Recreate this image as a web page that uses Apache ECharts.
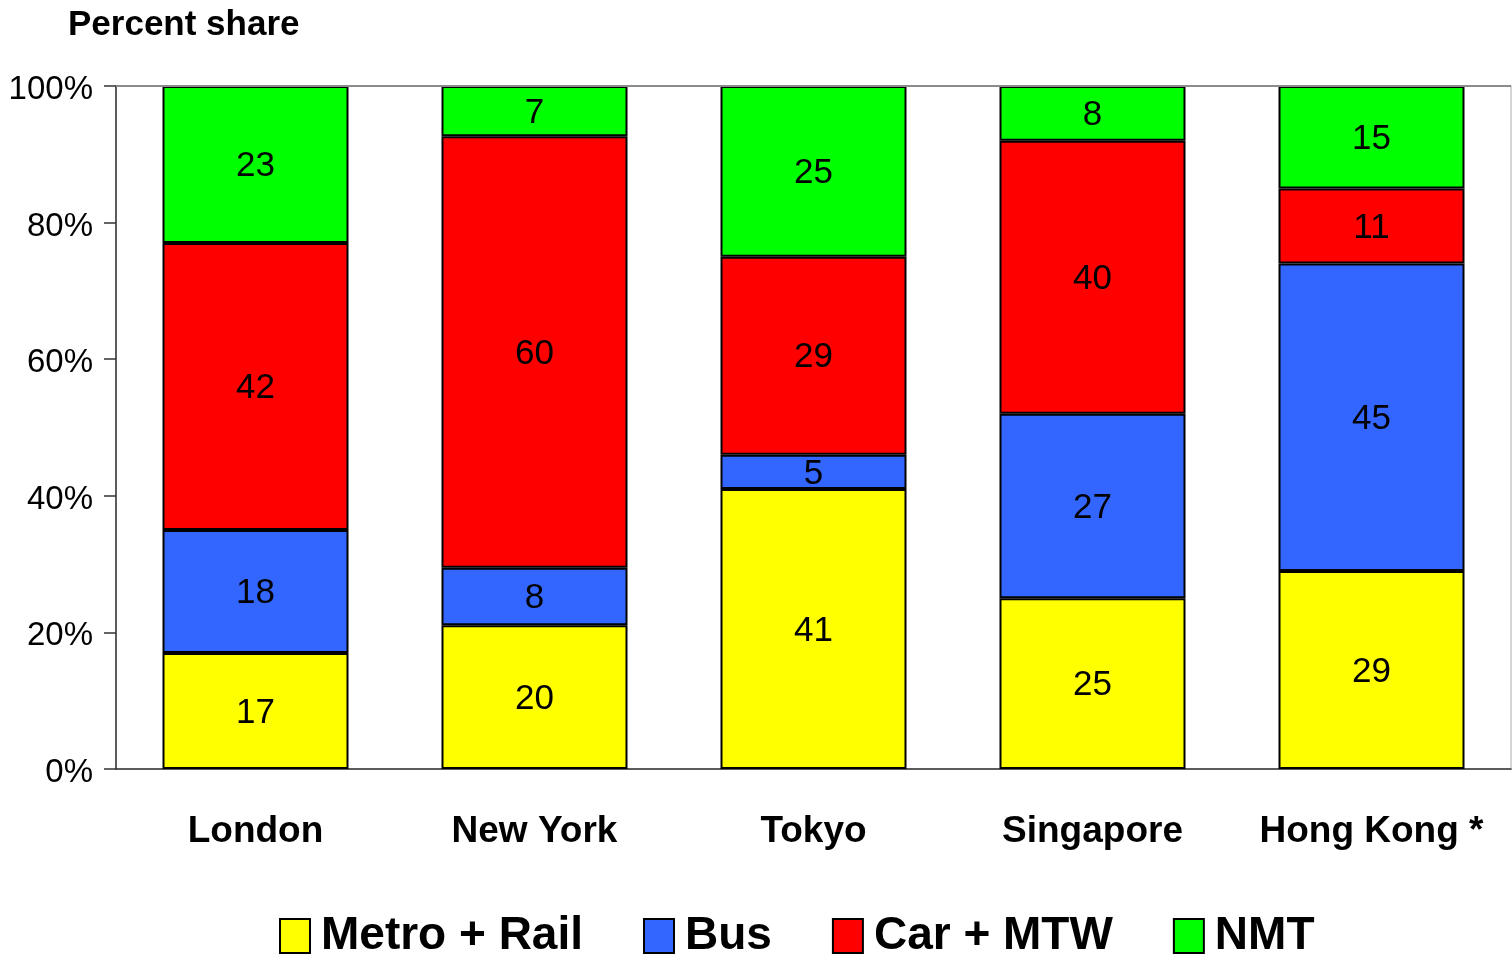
<!DOCTYPE html>
<html>
<head>
<meta charset="utf-8">
<title>Percent share</title>
<script src="https://cdn.jsdelivr.net/npm/echarts@6/dist/echarts.min.js"></script>
<style>
  html, body { margin: 0; padding: 0; background: #fff; }
  #chart { width: 1512px; height: 954px; }
</style>
</head>
<body>
<div id="chart"></div>
<script>
// Modal split of trips by city
const cities = ['London', 'New York', 'Tokyo', 'Singapore', 'Hong Kong *'];
const metroRail = [17, 20, 41, 25, 29];
const bus = [18, 8, 5, 27, 45];
const carMtw = [42, 60, 29, 40, 11];
const nmt = [23, 7, 25, 8, 15];
const yTicks = [0, 20, 40, 60, 80, 100];

const modes = [
  { name: 'Metro + Rail', values: metroRail, color: '#FFFF00' },
  { name: 'Bus', values: bus, color: '#3366FF' },
  { name: 'Car + MTW', values: carMtw, color: '#FF0000' },
  { name: 'NMT', values: nmt, color: '#00FF00' }
];

// Each bar is scaled to 100% of its city's total
const totals = cities.map((c, i) => modes.reduce((s, m) => s + m.values[i], 0));

const FONT = 'Liberation Sans, Arial, Helvetica, sans-serif';

const chart = echarts.init(document.getElementById('chart'), null, { renderer: 'canvas' });

chart.setOption({
  animation: false,
  backgroundColor: '#fff',
  textStyle: { fontFamily: FONT, color: '#000' },
  title: {
    text: 'Percent share',
    left: 63,
    top: 3,
    textStyle: { fontFamily: FONT, fontSize: 35, fontWeight: 'bold', color: '#000' }
  },
  legend: {
    left: 274,
    top: 908,
    itemWidth: 30,
    itemHeight: 34,
    itemGap: 60,
    icon: 'rect',
    selectedMode: false,
    textStyle: { fontFamily: FONT, fontSize: 46, fontWeight: 'bold', color: '#000', padding: [0, 0, 0, 6] },
    itemStyle: { borderColor: '#000', borderWidth: 2 },
    data: modes.map(m => m.name)
  },
  grid: {
    left: 116,
    right: 1,
    top: 86,
    bottom: 185,
    show: true,
    borderColor: '#c8c8c8',
    borderWidth: 1.5,
    backgroundColor: 'transparent'
  },
  xAxis: {
    type: 'category',
    data: cities,
    axisLine: { lineStyle: { color: '#333', width: 1.5 } },
    axisTick: { show: false },
    axisLabel: {
      interval: 0,
      margin: 44,
      fontFamily: FONT,
      fontSize: 37,
      fontWeight: 'bold',
      color: '#000'
    }
  },
  yAxis: {
    type: 'value',
    min: yTicks[0],
    max: yTicks[yTicks.length - 1],
    interval: 20,
    axisLine: { show: true, lineStyle: { color: '#333', width: 1.5 } },
    axisTick: { show: true, length: 12, lineStyle: { color: '#333', width: 1.5 } },
    splitLine: { show: false },
    axisLabel: {
      margin: 23,
      fontFamily: FONT,
      fontSize: 33,
      color: '#000',
      verticalAlign: 'top',
      lineHeight: 8,
      formatter: '{value}%'
    }
  },
  series: modes.map((m, k) => ({
    name: m.name,
    type: 'bar',
    stack: 'share',
    barWidth: 186,
    itemStyle: { color: m.color, borderColor: '#000', borderWidth: 2 },
    label: {
      show: true,
      position: 'inside',
      offset: [0, 2],
      fontFamily: FONT,
      fontSize: 35,
      color: '#000',
      formatter: p => String(m.values[p.dataIndex])
    },
    // top edge of the plot area
    markLine: k === 0 ? {
      silent: true,
      symbol: 'none',
      label: { show: false },
      lineStyle: { color: '#8c8c8c', width: 2, type: 'solid' },
      data: [{ yAxis: yTicks[yTicks.length - 1] }]
    } : undefined,
    data: m.values.map((v, i) => v / totals[i] * 100)
  }))
});
</script>
</body>
</html>
